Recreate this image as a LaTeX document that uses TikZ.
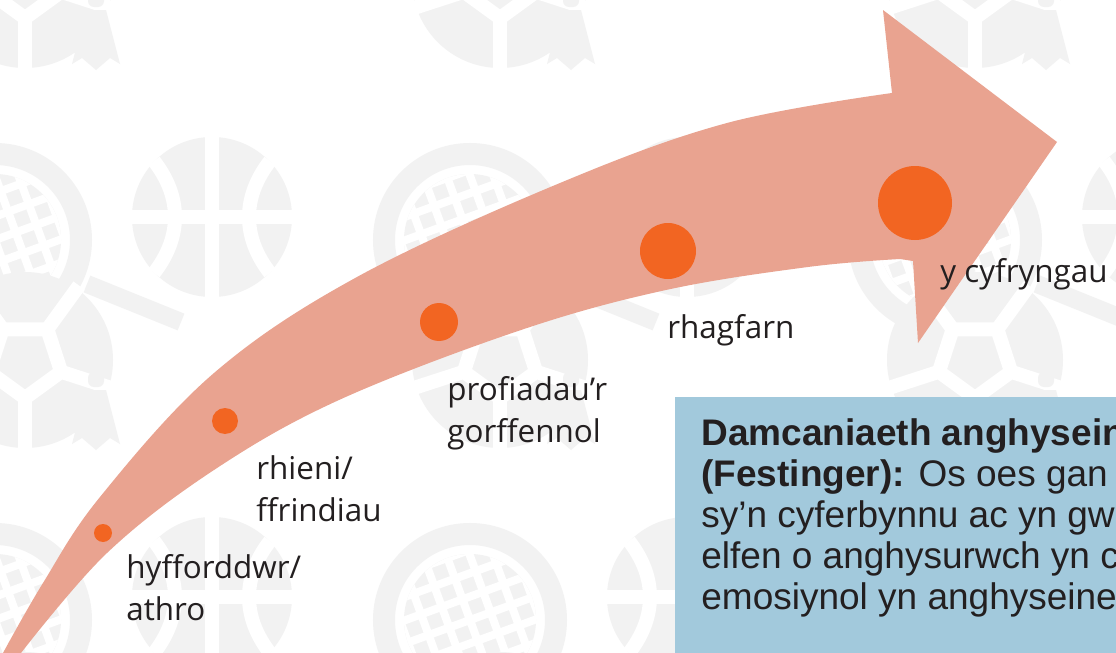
\documentclass[tikz,border=0pt]{standalone}
\usepackage{fontspec}
\setmainfont{Open Sans}
\newfontfamily\arialfont{Liberation Sans}
\usepackage{tikz}
\usetikzlibrary{positioning}
\definecolor{arrowsalmon}{HTML}{E9A390}
\definecolor{dotorange}{HTML}{F26522}
\definecolor{boxblue}{HTML}{A2C9DC}
\definecolor{textgrey}{HTML}{231F20}
\definecolor{markgrey}{HTML}{F2F2F2}
\tikzset{
	stagedot/.style={circle,fill=dotorange,inner sep=0pt},
	stage/.style={font=\fontsize{15.7}{21}\selectfont,text=textgrey,align=left,
		inner sep=0pt,anchor=base west},
	infobox/.style={fill=boxblue,inner sep=0pt,anchor=north west},
	theory/.style={font=\arialfont\fontsize{18.5}{20.5}\selectfont,text=textgrey,
		align=left,inner sep=0pt,anchor=base west},
	gap/.style={white,line width=#1}
}
% faint sports icons of the background
\newcommand{\bball}[2]{%
	\begin{scope}[shift={(#1,#2)}]
		\fill[markgrey] (0,0) circle (80);
		\draw[gap=7pt] (0,-82) -- (0,82) (-82,0) -- (82,0);
		\draw[gap=7pt] (-58,-56) .. controls (-30,-20) and (-30,20) .. (-58,56);
		\draw[gap=7pt] (58,-56) .. controls (30,-20) and (30,20) .. (58,56);
	\end{scope}}
\newcommand{\racket}[2]{%
	\begin{scope}[shift={(#1,#2)}]
		\draw[markgrey,line width=11pt] (0,0) circle (86);
		\draw[markgrey,line width=9pt] (92,44) -- (186,82);
		\begin{scope}
			\clip (0,0) circle (66);
			\fill[markgrey] (-70,-70) rectangle (70,70);
			\foreach \k in {-4,...,4}
				\draw[gap=4pt,rotate=20] (\k*22,-90) -- (\k*22,90) (-90,\k*22) -- (90,\k*22);
		\end{scope}
	\end{scope}}
\newcommand{\fball}[2]{%
	\begin{scope}[shift={(#1,#2)}]
		\fill[markgrey] (0,0) circle (88);
		\draw[gap=7pt] (90:38) -- (162:38) -- (234:38) -- (306:38) -- (18:38) -- cycle;
		\foreach \a in {90,162,234,306,18}
			\draw[gap=7pt] (\a:38) -- (\a:92);
	\end{scope}}
\newcommand{\shuttle}[2]{%
	\begin{scope}[shift={(#1,#2)}]
		\fill[markgrey,rounded corners=3pt] (-8,0) rectangle (8,15);
		\fill[markgrey] (-10,18) -- (10,18) -- (24,72) -- (14,66) -- (0,78) -- (-14,66) -- (-24,72) -- cycle;
	\end{scope}}

\begin{document}
\begin{tikzpicture}[x=0.5pt,y=-0.5pt]
	\useasboundingbox (0,0) rectangle (1116,653);
	\clip (0,0) rectangle (1116,653);
	\fill[white] (0,0) rectangle (1116,653);
	% background pattern
	\foreach \i in {-1,0,1,2}{
		\foreach \j in {-1,0,1}{
			\racket{-5+\i*475}{240+\j*380}
			\bball{212+\i*475}{217+\j*380}
			\fball{25+\i*475}{360+\j*380}
			\shuttle{96+\i*475}{-8+\j*380}
		}
	}
	% the arrow
	\fill[arrowsalmon] plot[smooth,tension=0.6] coordinates {(3,653) (43,583) (100,497)
		(214,373) (357,277) (560,183) (727,123) (892,93)}
		-- (883,10) -- (1057,142) -- (918,343) -- (913,261)
		-- plot[smooth,tension=0.6] coordinates {(900,259) (808,267) (666,290) (521,330)
		(339,400) (214,470) (107,553) (21,653)} -- cycle;
	% stages
	\node[stagedot,minimum size=9pt] (coach) at (103,533) {};
	\node[stagedot,minimum size=13pt] (parents) at (225,421) {};
	\node[stagedot,minimum size=19pt] (past) at (439,322) {};
	\node[stagedot,minimum size=28pt] (bias) at (668,251) {};
	\node[stagedot,minimum size=37pt] (media) at (915,203) {};
	\node[stage] (coachtxt) at (126,620) {hyfforddwr/\\athro};
	\node[stage] (parentstxt) at (256,521) {rhieni/\\ffrindiau};
	\node[stage] (pasttxt) at (447,442) {profiadau’r\\gorffennol};
	\node[stage] (biastxt) at (667,338) {rhagfarn};
	\node[stage] (mediatxt) at (940,282) {y cyfryngau};
	% theory box
	\node[infobox,minimum width=240pt,minimum height=140pt] (box) at (675,397) {};
	\node[theory] (boxtxt) at (701,609) {\textbf{Damcaniaeth anghyseinedd}\\
		\textbf{(Festinger):} Os oes gan unigolyn\\
		sy’n cyferbynnu ac yn gwrthdaro\\
		elfen o anghysurwch yn cael\\
		emosiynol yn anghyseinedd};
\end{tikzpicture}
\end{document}
